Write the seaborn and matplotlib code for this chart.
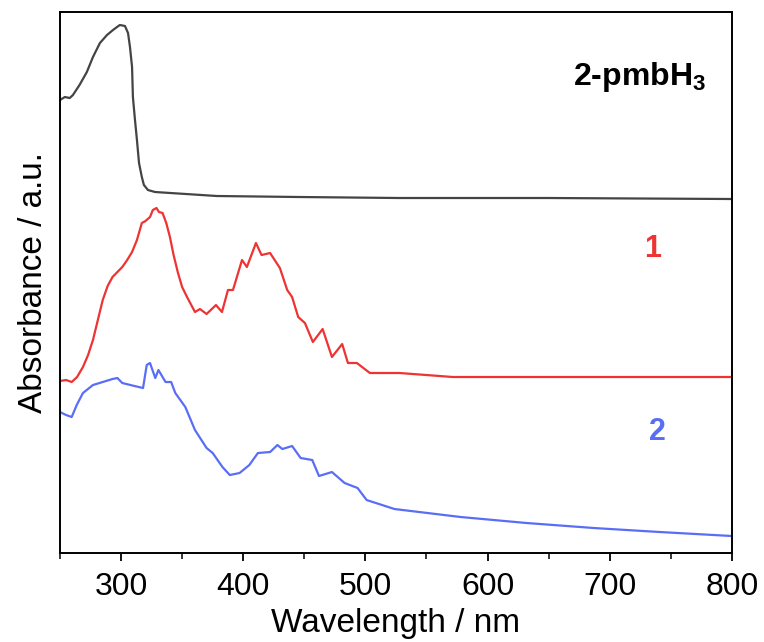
import numpy as np
import pandas as pd
import matplotlib
matplotlib.use('Agg')
import matplotlib.pyplot as plt
from matplotlib.ticker import MultipleLocator
import seaborn as sns

# UV-vis spectra, offset vertically (arbitrary units)
wl_ligand = [250, 254, 258, 260.6, 266, 272, 277, 282.7, 288.5, 293.4, 296.7, 299, 303.2, 305.7,
             307.3, 309, 309.7, 311.4, 313, 314.7, 317, 318.7, 322, 327.8, 378.5, 446, 528,
             650, 800]
abs_ligand = [4.53, 4.56, 4.55, 4.58, 4.68, 4.81, 4.96, 5.10, 5.18, 5.23, 5.26, 5.28, 5.27, 5.20,
              5.06, 4.86, 4.56, 4.33, 4.13, 3.90, 3.76, 3.68, 3.63, 3.61, 3.57, 3.56, 3.55,
              3.55, 3.54]

wl_1 = [250, 255, 259.6, 264, 268.8, 273, 277, 281, 285, 289, 293, 297, 301, 305, 309, 313, 317,
        320, 323.7, 326, 329, 331, 334, 337, 340, 343, 346.6, 350, 354,
        360.5, 364.6, 370, 377.7, 382.6, 387.5, 391.6, 399, 403, 410.4, 415, 422, 430, 436,
        440, 445, 450.5, 457, 465, 472.6, 481, 485.7, 493, 503.7, 528, 571.7, 800]
abs_1 = [1.72, 1.73, 1.71, 1.76, 1.86, 1.98, 2.13, 2.33, 2.53, 2.67, 2.76, 2.81, 2.86, 2.93,
         3.01, 3.13, 3.30, 3.32, 3.36, 3.43, 3.45, 3.41, 3.40, 3.30, 3.16, 2.98, 2.80, 2.66,
         2.56, 2.41, 2.44, 2.39, 2.48, 2.41, 2.63, 2.63, 2.93, 2.86, 3.10, 2.98, 3.00,
         2.85, 2.63, 2.56, 2.36, 2.30, 2.11, 2.24, 1.96, 2.09, 1.90, 1.90, 1.80, 1.80, 1.76, 1.76]

wl_2 = [250, 255, 259.6, 263.7, 268.8, 277, 285, 293, 297, 301, 311, 318, 321, 323.7, 328,
        330.6, 336.4, 341, 344.4, 352.6, 360.5, 370, 375, 383, 389, 397, 405, 412, 422, 428,
        432, 440, 447, 456.5, 462, 472.6, 483, 493.6, 501, 523.8, 578, 632, 687, 741, 800]
abs_2 = [1.41, 1.38, 1.36, 1.48, 1.60, 1.68, 1.71, 1.74, 1.75, 1.70, 1.67, 1.65, 1.88, 1.90,
         1.75, 1.83, 1.71, 1.71, 1.60, 1.46, 1.23, 1.05, 1.00, 0.86, 0.78, 0.80, 0.88, 1.00,
         1.01, 1.08, 1.04, 1.07, 0.95, 0.93, 0.77, 0.81, 0.70, 0.65, 0.53, 0.44, 0.36, 0.30,
         0.25, 0.21, 0.17]

labels = ['2-pmbH$_3$', '1', '2']
colors = ['#444444', '#ee3333', '#5a6ef5']

sns.set_theme(style='white')
plt.rcParams['font.family'] = ['Liberation Sans', 'DejaVu Sans']
plt.rcParams['mathtext.fontset'] = 'custom'
plt.rcParams['mathtext.rm'] = 'Liberation Sans:bold'
plt.rcParams['mathtext.bf'] = 'Liberation Sans:bold'

fig = plt.figure(figsize=(7.64, 6.42), dpi=100)
ax = fig.add_axes([0.0785, 0.1386, 0.8795, 0.8427])

series = [(wl_ligand, abs_ligand), (wl_1, abs_1), (wl_2, abs_2)]
for (x, y), c in zip(series, colors):
    sns.lineplot(x=x, y=y, ax=ax, color=c, linewidth=1.6, sort=False)

ax.set_xlim(250, 800)
ax.set_ylim(0, 5.41)
ax.xaxis.set_major_locator(MultipleLocator(100))
ax.xaxis.set_minor_locator(MultipleLocator(50))
ax.tick_params(axis='x', which='major', direction='out', length=6, width=1.3,
               labelsize=23, bottom=True, pad=8, colors='black')
ax.tick_params(axis='x', which='minor', direction='out', length=4, width=1.3, bottom=True)
ax.set_yticks([])
for s in ax.spines.values():
    s.set_color('black')
    s.set_linewidth(1.4)

ax.set_xlabel('Wavelength / nm', fontsize=24, labelpad=4, color='black')
ax.set_ylabel('Absorbance / a.u.', fontsize=24, labelpad=8, color='black')

# label positions in wavelength units
ax.text(724, 4.76, labels[0], fontsize=23, fontweight='bold', color='black',
        family='Liberation Sans', ha='center', va='center')
ax.text(735, 3.04, labels[1], fontsize=22, fontweight='bold', color=colors[1],
        family='Liberation Sans', ha='center', va='center')
ax.text(739, 1.21, labels[2], fontsize=22, fontweight='bold', color=colors[2],
        family='Liberation Sans', ha='center', va='center')

fig.savefig('out.png', dpi=100)
